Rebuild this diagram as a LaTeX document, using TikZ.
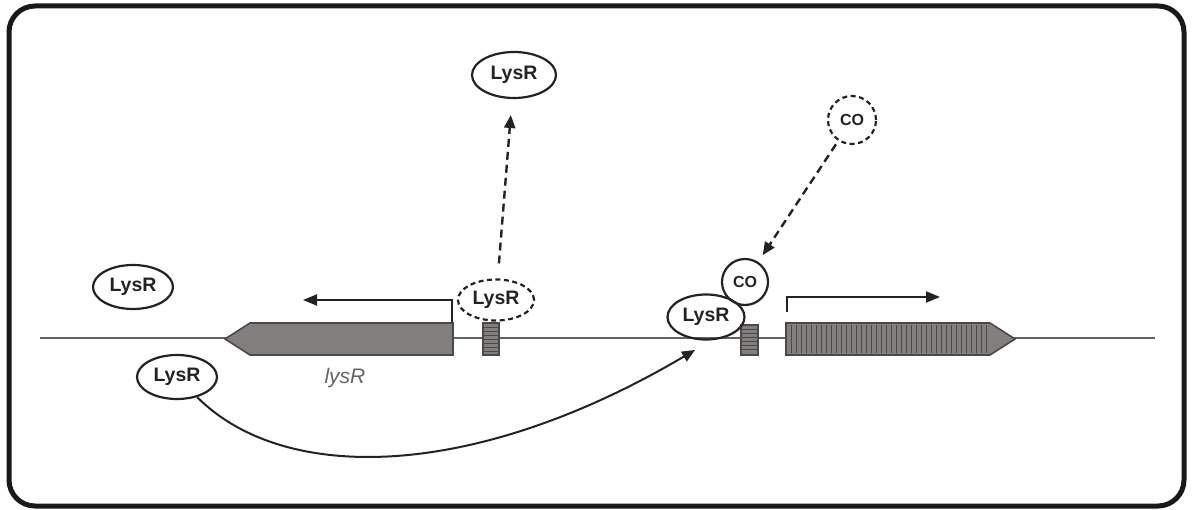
\documentclass[tikz,border=0pt]{standalone}
\usepackage{fontspec}
\setmainfont{Liberation Sans}
\usetikzlibrary{arrows.meta,shapes.geometric}
\definecolor{genefill}{RGB}{132,127,127}
\definecolor{geneline}{RGB}{75,72,72}
\definecolor{dnacol}{RGB}{100,100,100}
\definecolor{txtcol}{RGB}{35,35,35}
\definecolor{labcol}{RGB}{100,100,100}
\tikzset{
  prot/.style={ellipse,draw=txtcol,line width=2.2pt,inner sep=0pt,minimum width=80pt,minimum height=44pt,
    font=\fontsize{19.5}{19.5}\selectfont\bfseries,text=txtcol},
  protdash/.style={prot,dash pattern=on 5pt off 3.5pt},
  mol/.style={circle,draw=txtcol,line width=2.2pt,inner sep=0pt,minimum size=46pt,
    font=\fontsize{16}{16}\selectfont\bfseries,text=txtcol},
  moldash/.style={mol,dash pattern=on 5pt off 3.5pt},
  genebox/.style={fill=genefill,draw=geneline,line width=1.6pt},
  dasharrow/.style={line width=2.4pt,draw=txtcol,dash pattern=on 8pt off 5pt,-{Triangle[length=13pt,width=11pt]}},
  solidarrow/.style={line width=2pt,draw=txtcol,-{Triangle[length=13pt,width=11pt]}},
  promarrow/.style={line width=2pt,draw=txtcol,-{Triangle[length=14pt,width=11pt]}},
  hatch/.style={draw=geneline,line width=0.6pt}
}
\begin{document}
\begin{tikzpicture}[x=1pt,y=-1pt]
\useasboundingbox (0,0) rectangle (1192,510);
% frame
\draw[line width=5pt,rounded corners=26pt,draw=black!90] (9,6) rectangle (1184,506);
% DNA
\coordinate (dnaL) at (40,338);
\coordinate (dnaR) at (1155,338);
\draw[dnacol,line width=2.6pt] (dnaL) -- (dnaR);
% left gene lysR
\draw[genebox] (453,323) -- (250,323) -- (225,339) -- (250,355) -- (453,355) -- cycle;
% left small box
\draw[genebox] (483,323) rectangle (499,355);
\foreach \y in {327,331,...,352} \draw[hatch] (484,\y) -- (498,\y);
% right small box
\draw[genebox] (741,325) rectangle (758,355);
\foreach \y in {329,333,...,352} \draw[hatch] (742,\y) -- (757,\y);
% right gene
\draw[genebox] (786,323) -- (990,323) -- (1015,339) -- (990,355) -- (786,355) -- cycle;
\foreach \x in {791,796,...,986} \draw[hatch] (\x,325) -- (\x,353);
% promoter arrows
\coordinate (pl0) at (452,322);
\coordinate (pl1) at (452,300);
\coordinate (pl2) at (303,300);
\draw[promarrow] (pl0) -- (pl1) -- (pl2);
\coordinate (pr0) at (787,312);
\coordinate (pr1) at (787,297);
\coordinate (pr2) at (940,297);
\draw[promarrow] (pr0) -- (pr1) -- (pr2);
% gene label
\node[font=\fontsize{21}{21}\selectfont\itshape,text=labcol] (lab) at (345,378) {lysR};
% proteins
\node[prot] (lysA) at (133,287) {LysR};
\node[prot] (lysB) at (177,377) {LysR};
\node[prot,minimum width=84pt,minimum height=46pt] (lysTop) at (514,75) {LysR};
\node[protdash,minimum width=76pt,minimum height=41pt] (lysDash) at (496,300) {LysR};
\node[prot,minimum width=77pt,minimum height=45pt] (lysBound) at (706,317) {LysR};
\node[mol] (coBound) at (745,282) {CO};
\node[moldash,minimum size=48pt] (coDash) at (852,120) {CO};
% connectors
\draw[dasharrow,shorten <=15pt,shorten >=16pt] (lysDash) -- (lysTop);
\draw[dasharrow,shorten <=4pt,shorten >=8pt] (coDash) -- (coBound);
\coordinate (tip) at (695,350);
\draw[solidarrow] (lysB) .. controls (285,485) and (475,480) .. (tip);
\end{tikzpicture}
\end{document}
